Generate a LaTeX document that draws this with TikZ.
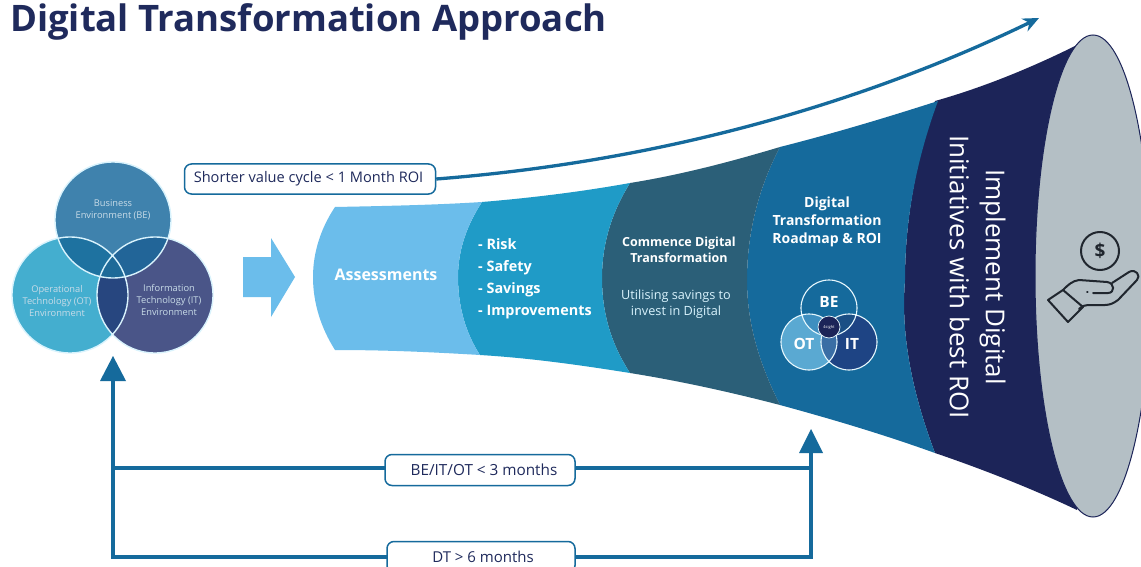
\documentclass[tikz,border=0pt]{standalone}
\usepackage{fontspec}
\setmainfont{Open Sans}
\definecolor{ctitle}{HTML}{1F2A5C}
\definecolor{cassess}{HTML}{6BBDEB}
\definecolor{crisk}{HTML}{1F9BC7}
\definecolor{ccomm}{HTML}{2B5F78}
\definecolor{croad}{HTML}{156A9C}
\definecolor{cnavy}{HTML}{1C2458}
\definecolor{cgrey}{HTML}{B4BFC5}
\definecolor{cbe}{HTML}{3F82AD}
\definecolor{cot}{HTML}{44AECF}
\definecolor{cit}{HTML}{4A5588}
\definecolor{cicon}{HTML}{20262E}
\definecolor{va}{HTML}{1E72A0}
\definecolor{vb}{HTML}{226598}
\definecolor{vc}{HTML}{27467F}
\definecolor{vd}{HTML}{1E6A98}
\definecolor{ma}{HTML}{5AA9D2}
\definecolor{mb}{HTML}{1E4484}
\definecolor{mc}{HTML}{3A6EA5}
\definecolor{md}{HTML}{3E8FC0}
\definecolor{me}{HTML}{1B4F85}
\usetikzlibrary{arrows.meta}
\tikzset{
  wtext/.style={text=white,align=center,inner sep=0pt,font=\bfseries},
  venntext/.style={text=white!72!cbe,align=center,inner sep=0pt,font=\fontsize{9.3}{12}\selectfont},
  pill/.style={draw=croad,line width=1.5pt,fill=white,rounded corners=7pt,text=ctitle,align=center,inner sep=0pt},
  fb/.style={draw=croad,line width=4pt},
  fbhead/.style={fill=croad,draw=none},
  ring/.style={draw=white!85!cyan,line width=1.4pt},
  iconline/.style={draw=cicon,line width=2pt,line join=round,line cap=round}
}
\begin{document}
\begin{tikzpicture}[x=1pt,y=-1pt]
\useasboundingbox (0,0) rectangle (1141,567);
\fill[white] (0,0) rectangle (1141,567);
\node[anchor=west,inner sep=0pt,text=ctitle,font=\fontsize{36.5}{40}\selectfont\bfseries] (title) at (10,22) {Digital Transformation Approach};
% funnel
\fill[cnavy] (935,101) .. controls (985,87) and (1035,66) .. (1077,45) -- (1077,510) .. controls (1035,490) and (985,470) .. (935,453) .. controls (915,400) and (900,340) .. (905,280) .. controls (905,210) and (920,150) .. (935,101) -- cycle;
\begin{scope}
\clip (1000,0) rectangle (1141,567);
\filldraw[fill=cgrey,draw=cnavy,line width=1pt] (1093,276) ellipse (58 and 241);
\end{scope}
\fill[croad] (780,147) .. controls (835,133) and (885,118) .. (938,101) .. controls (920,150) and (905,210) .. (905,280) .. controls (900,340) and (915,400) .. (935,453) .. controls (885,435) and (835,420) .. (780,405) .. controls (760,365) and (747,325) .. (747,280) .. controls (747,230) and (760,185) .. (780,147) -- cycle;
\fill[ccomm] (630,183) .. controls (680,175) and (730,162) .. (780,147) .. controls (760,185) and (747,230) .. (747,280) .. controls (747,325) and (760,365) .. (780,405) .. controls (730,392) and (680,381) .. (630,373) .. controls (612,345) and (602,315) .. (602,278) .. controls (602,243) and (612,212) .. (630,183) -- cycle;
\fill[crisk] (482,202) .. controls (530,198) and (580,192) .. (630,183) .. controls (612,212) and (602,243) .. (602,278) .. controls (602,315) and (612,345) .. (630,373) .. controls (580,365) and (530,358) .. (480,355) .. controls (465,332) and (458,305) .. (458,277) .. controls (458,250) and (467,225) .. (482,202) -- cycle;
\fill[cassess] (335,207) .. controls (385,206) and (435,205) .. (482,202) .. controls (467,225) and (458,250) .. (458,277) .. controls (458,305) and (465,332) .. (480,355) .. controls (430,352) and (385,350) .. (335,350) .. controls (321,328) and (313,303) .. (313,277) .. controls (313,252) and (321,228) .. (335,207) -- cycle;
% funnel labels
\node[wtext,font=\fontsize{16}{20}\selectfont\bfseries] (assess) at (386,275) {Assessments};
\node[wtext,anchor=west,align=left,font=\fontsize{14.4}{22}\selectfont\bfseries] (risk) at (478,279) {- Risk\\- Safety\\- Savings\\- Improvements};
\node[wtext,font=\fontsize{12.5}{16}\selectfont\bfseries] (comm) at (679,250) {Commence Digital\\Transformation};
\node[align=center,inner sep=0pt,text=white!85!cyan,font=\fontsize{12.7}{16.5}\selectfont] (util) at (676,304) {Utilising savings to\\invest in Digital};
\node[wtext,font=\fontsize{14}{18}\selectfont\bfseries] (road) at (827,222) {Digital\\Transformation\\Roadmap \& ROI};
\node[text=white,align=center,inner sep=0pt,rotate=-90,font=\fontsize{26}{36}\selectfont] (impl) at (977.5,277) {Implement Digital\\Initiatives with best ROI};
% large venn
\fill[cbe] (113,220) circle (58);
\fill[cot] (70,295) circle (58);
\fill[cit] (155,295) circle (58);
\begin{scope}\clip (113,220) circle (58); \fill[va] (70,295) circle (58); \fill[vb] (155,295) circle (58); \end{scope}
\begin{scope}\clip (70,295) circle (58); \fill[vc] (155,295) circle (58); \clip (155,295) circle (58); \fill[vd] (113,220) circle (58); \end{scope}
\draw[ring] (113,220) circle (58) (70,295) circle (58) (155,295) circle (58);
\node[venntext] (be) at (113,209.5) {Business\\Environment (BE)};
\node[venntext] (ot) at (57,301) {Operational\\Technology (OT)\\Environment};
\node[venntext] (it) at (169,300) {Information\\Technology (IT)\\Environment};
% big block arrow
\fill[cassess] (243,257) -- (271,257) -- (271,238) -- (295,277) -- (271,317) -- (271,297) -- (243,297) -- cycle;
% mini venn
\fill[ma] (809,342) circle (28);
\fill[mb] (849,342) circle (28);
\begin{scope}\clip (809,342) circle (28); \fill[mc] (849,342) circle (28); \end{scope}
\begin{scope}\clip (829,308) circle (28); \fill[md] (809,342) circle (28); \fill[me] (849,342) circle (28); \end{scope}
\draw[draw=white!90!cyan,line width=1.1pt] (829,308) circle (28) (809,342) circle (28) (849,342) circle (28);
\fill[cnavy] (829,327) circle (11);
\draw[white!90!cyan,line width=.7pt] (829,327) circle (11);
\node[wtext,font=\fontsize{15.5}{18}\selectfont\bfseries] (mbe) at (829,302) {BE};
\node[wtext,font=\fontsize{15.5}{18}\selectfont\bfseries] (mot) at (804,344) {OT};
\node[wtext,font=\fontsize{15.5}{18}\selectfont\bfseries] (mit) at (852,344) {IT};
\node[text=white,inner sep=0pt,font=\fontsize{4}{4}\selectfont] (mcc) at (829,327) {4sight};
% top arrow
\node[pill,font=\fontsize{14.6}{16}\selectfont,minimum width=251pt,minimum height=30pt] (short) at (310,179) {\hspace{-3pt}Shorter value cycle < 1 Month ROI};
\coordinate (toptip) at (1039,18);
\draw[croad,line width=3.3pt,-{Stealth[length=16pt,width=14pt]}] (short.east) .. controls (680,160) and (880,95) .. (toptip);
% feedback
\coordinate (la) at (113,380); \coordinate (lb) at (113,468); \coordinate (lc) at (113,557);
\coordinate (ra) at (811,450); \coordinate (rb) at (811,468); \coordinate (rc) at (811,557);
\draw[fb] (la) -- (lc) -- (rc) -- (ra);
\draw[fb] (lb) -- (rb);
\node[pill,font=\fontsize{15.3}{16}\selectfont,minimum width=190pt,minimum height=31pt] (m3) at (480,470) {\hspace{8pt}\raisebox{1pt}{BE/IT/OT < 3 months}};
\node[pill,font=\fontsize{15}{16}\selectfont,minimum width=188pt,minimum height=31pt] (m6) at (481,557) {\hspace{4pt}DT > 6 months};
\fill[fbhead] (113,356) -- (126,381) -- (100,381) -- cycle;
\fill[fbhead] (811,429) -- (823,453) -- (799,453) -- cycle;
% icon
\draw[iconline] (1100,251) circle (19);
\node[text=cicon,inner sep=0pt,font=\fontsize{19}{22}\selectfont\bfseries] (dollar) at (1100,251) {\$};
\draw[iconline] (1048,300) -- (1063,290) -- (1083,307) -- (1068,322) -- cycle;
\draw[iconline] (1063,290) .. controls (1068,285) and (1072,281) .. (1079,280) -- (1107,282) .. controls (1115,283) and (1115,293) .. (1108,293) -- (1093,293);
\draw[iconline] (1087,292) -- (1087.5,292);
\draw[iconline] (1112,283) -- (1129,272) .. controls (1136,268) and (1141,276) .. (1137,280) -- (1118,300) .. controls (1114,303) and (1110,305) .. (1105,305) -- (1088,305) .. controls (1085,305) and (1082,306) .. (1079,309);
\end{tikzpicture}
\end{document}
